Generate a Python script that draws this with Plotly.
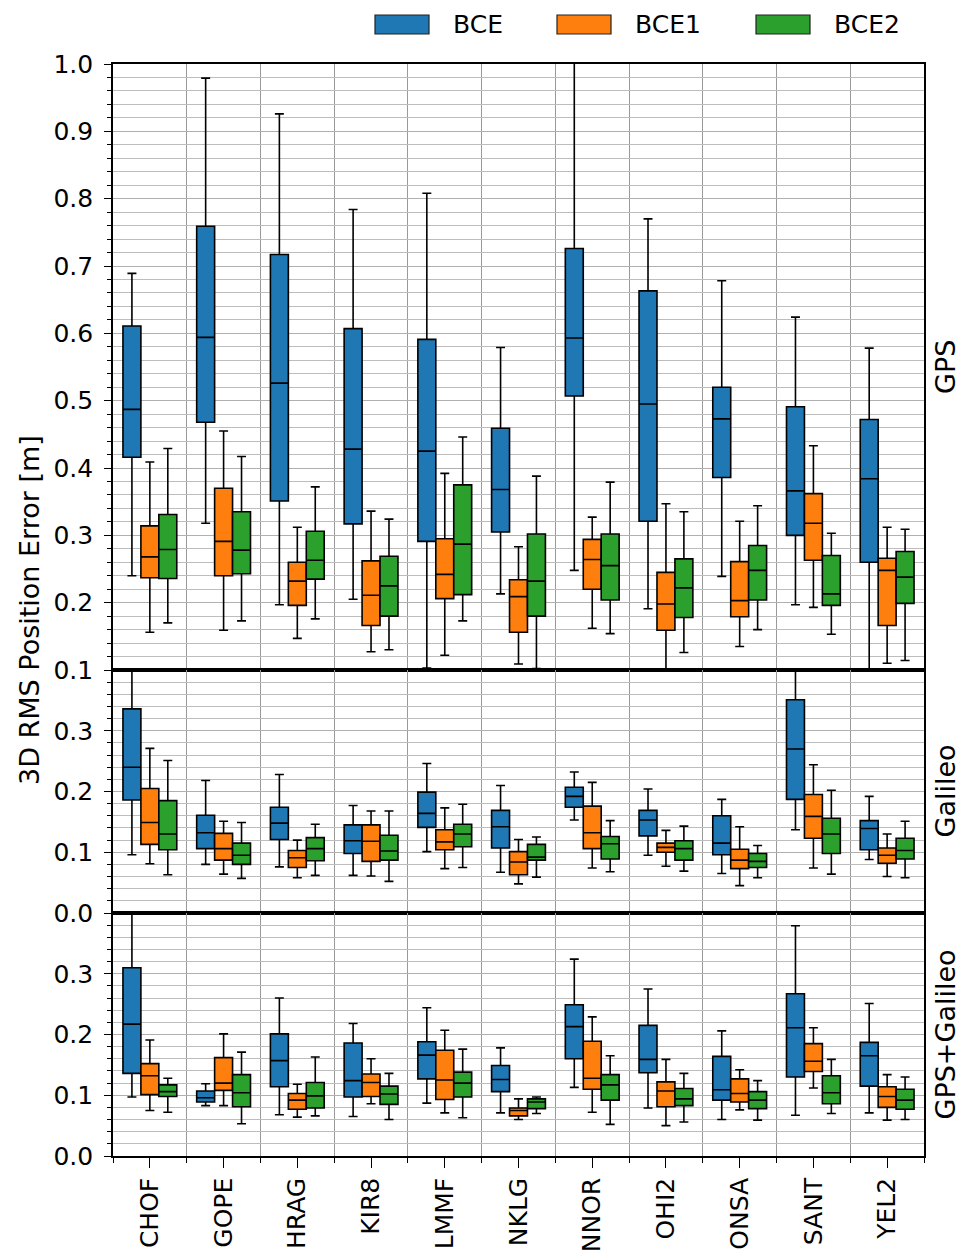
import plotly.graph_objects as go
from plotly.subplots import make_subplots

# Stations on the x axis
stations = ["CHOF", "GOPE", "HRAG", "KIR8", "LMMF", "NKLG",
            "NNOR", "OHI2", "ONSA", "SANT", "YEL2"]

series_names = ["BCE", "BCE1", "BCE2"]
series_colors = ["#1f77b4", "#ff7f0e", "#2ca02c"]
panel_names = ["GPS", "Galileo", "GPS+Galileo"]

# Box statistics per station: (lower whisker, Q1, median, Q3, upper whisker) in metres
gps_bce = [(0.240, 0.416, 0.487, 0.611, 0.689), (0.318, 0.468, 0.594, 0.759, 0.979),
           (0.197, 0.351, 0.526, 0.717, 0.926), (0.205, 0.317, 0.428, 0.607, 0.784),
           (0.103, 0.291, 0.425, 0.591, 0.808), (0.213, 0.305, 0.368, 0.459, 0.579),
           (0.248, 0.507, 0.593, 0.726, 1.050), (0.191, 0.321, 0.495, 0.663, 0.770),
           (0.239, 0.386, 0.473, 0.520, 0.678), (0.197, 0.300, 0.366, 0.491, 0.624),
           (0.090, 0.260, 0.384, 0.472, 0.578)]
gps_bce1 = [(0.156, 0.237, 0.268, 0.314, 0.409), (0.159, 0.240, 0.291, 0.370, 0.455),
            (0.147, 0.196, 0.232, 0.260, 0.312), (0.127, 0.166, 0.211, 0.262, 0.336),
            (0.122, 0.206, 0.242, 0.295, 0.392), (0.109, 0.156, 0.209, 0.234, 0.283),
            (0.162, 0.220, 0.264, 0.294, 0.327), (0.090, 0.159, 0.198, 0.245, 0.347),
            (0.135, 0.179, 0.203, 0.261, 0.321), (0.193, 0.263, 0.318, 0.362, 0.433),
            (0.110, 0.166, 0.248, 0.266, 0.312)]
gps_bce2 = [(0.170, 0.236, 0.279, 0.331, 0.429), (0.173, 0.243, 0.278, 0.335, 0.417),
            (0.176, 0.235, 0.263, 0.306, 0.372), (0.130, 0.180, 0.225, 0.269, 0.324),
            (0.173, 0.212, 0.287, 0.375, 0.446), (0.102, 0.180, 0.232, 0.302, 0.388),
            (0.154, 0.204, 0.255, 0.302, 0.379), (0.126, 0.178, 0.222, 0.265, 0.335),
            (0.160, 0.204, 0.248, 0.285, 0.344), (0.153, 0.196, 0.213, 0.270, 0.303),
            (0.114, 0.199, 0.238, 0.276, 0.309)]

gal_bce = [(0.096, 0.186, 0.240, 0.336, 0.420), (0.080, 0.106, 0.132, 0.161, 0.218),
           (0.076, 0.121, 0.148, 0.174, 0.228), (0.062, 0.098, 0.119, 0.145, 0.177),
           (0.101, 0.141, 0.164, 0.199, 0.246), (0.067, 0.107, 0.142, 0.169, 0.210),
           (0.153, 0.174, 0.192, 0.207, 0.232), (0.095, 0.127, 0.153, 0.169, 0.204),
           (0.065, 0.096, 0.115, 0.160, 0.187), (0.137, 0.187, 0.270, 0.351, 0.420),
           (0.088, 0.104, 0.139, 0.152, 0.192)]
gal_bce1 = [(0.081, 0.113, 0.149, 0.205, 0.271), (0.064, 0.087, 0.106, 0.131, 0.151),
            (0.058, 0.075, 0.091, 0.103, 0.120), (0.061, 0.085, 0.118, 0.145, 0.168),
            (0.073, 0.104, 0.117, 0.137, 0.173), (0.048, 0.063, 0.084, 0.101, 0.121),
            (0.074, 0.106, 0.132, 0.176, 0.215), (0.077, 0.100, 0.108, 0.115, 0.136),
            (0.045, 0.073, 0.087, 0.105, 0.142), (0.074, 0.123, 0.159, 0.195, 0.244),
            (0.060, 0.082, 0.095, 0.107, 0.130)]
gal_bce2 = [(0.063, 0.104, 0.130, 0.185, 0.251), (0.057, 0.080, 0.095, 0.115, 0.149),
            (0.062, 0.086, 0.106, 0.124, 0.146), (0.052, 0.087, 0.102, 0.128, 0.168),
            (0.075, 0.109, 0.130, 0.146, 0.179), (0.059, 0.087, 0.092, 0.113, 0.125),
            (0.068, 0.089, 0.114, 0.126, 0.152), (0.069, 0.087, 0.106, 0.119, 0.143),
            (0.058, 0.075, 0.085, 0.098, 0.111), (0.064, 0.098, 0.130, 0.156, 0.202),
            (0.058, 0.089, 0.103, 0.123, 0.151)]

comb_bce = [(0.097, 0.136, 0.217, 0.310, 0.420), (0.083, 0.089, 0.096, 0.107, 0.119),
            (0.068, 0.114, 0.157, 0.201, 0.260), (0.065, 0.097, 0.124, 0.186, 0.218),
            (0.087, 0.127, 0.166, 0.188, 0.244), (0.071, 0.106, 0.126, 0.149, 0.178),
            (0.113, 0.160, 0.213, 0.249, 0.324), (0.079, 0.137, 0.159, 0.215, 0.275),
            (0.060, 0.092, 0.109, 0.164, 0.206), (0.067, 0.130, 0.211, 0.267, 0.379),
            (0.071, 0.115, 0.165, 0.187, 0.251)]
comb_bce1 = [(0.075, 0.101, 0.132, 0.152, 0.191), (0.083, 0.108, 0.120, 0.162, 0.201),
             (0.064, 0.077, 0.092, 0.103, 0.118), (0.086, 0.098, 0.121, 0.135, 0.160),
             (0.071, 0.093, 0.125, 0.174, 0.207), (0.060, 0.066, 0.075, 0.079, 0.094),
             (0.072, 0.110, 0.128, 0.189, 0.229), (0.050, 0.081, 0.107, 0.122, 0.159),
             (0.076, 0.089, 0.103, 0.127, 0.142), (0.112, 0.139, 0.156, 0.185, 0.211),
             (0.059, 0.080, 0.098, 0.114, 0.134)]
comb_bce2 = [(0.072, 0.098, 0.106, 0.117, 0.128), (0.053, 0.081, 0.104, 0.134, 0.171),
             (0.066, 0.079, 0.099, 0.121, 0.163), (0.060, 0.085, 0.102, 0.115, 0.136),
             (0.063, 0.097, 0.120, 0.138, 0.176), (0.070, 0.078, 0.089, 0.094, 0.097),
             (0.052, 0.092, 0.117, 0.134, 0.165), (0.056, 0.083, 0.094, 0.111, 0.136),
             (0.059, 0.078, 0.092, 0.106, 0.124), (0.070, 0.086, 0.104, 0.132, 0.159),
             (0.060, 0.077, 0.092, 0.110, 0.130)]

panels = [
    [gps_bce, gps_bce1, gps_bce2],
    [gal_bce, gal_bce1, gal_bce2],
    [comb_bce, comb_bce1, comb_bce2],
]
y_ranges = [[0.1, 1.0], [0.0, 0.4], [0.0, 0.4]]
y_tickvals = [[0.1, 0.2, 0.3, 0.4, 0.5, 0.6, 0.7, 0.8, 0.9, 1.0],
              [0.0, 0.1, 0.2, 0.3],
              [0.0, 0.1, 0.2, 0.3]]

# Figure geometry (pixels)
W, H = 970, 1252
L, R, T, B = 113, 924, 64, 1156
panel_px = [(64, 670), (670, 913), (913, 1156)]
FONT = "DejaVu Sans"


def px_x(px):
    return (px - L) / (R - L)


def px_y(py):
    return (B - py) / (B - T)


fig = make_subplots(rows=3, cols=1, shared_xaxes=True, vertical_spacing=0)

xpos = list(range(len(stations)))
for row, panel in enumerate(panels, start=1):
    for name, color, stats in zip(series_names, series_colors, panel):
        lo, q1, med, q3, hi = (list(v) for v in zip(*stats))
        fig.add_trace(
            go.Box(
                x=xpos, lowerfence=lo, q1=q1, median=med, q3=q3, upperfence=hi,
                name=name, offsetgroup=name, legendgroup=name,
                fillcolor=color, line=dict(color="black", width=1.6),
                whiskerwidth=0.5, boxpoints=False, showlegend=False,
                hoverinfo="skip",
            ),
            row=row, col=1,
        )

# Panel layout
for i, (top, bot) in enumerate(panel_px):
    suffix = "" if i == 0 else str(i + 1)
    fig.layout["yaxis" + suffix].update(
        domain=[px_y(bot), px_y(top)],
        range=y_ranges[i],
        tickmode="array", tickvals=y_tickvals[i],
        tickformat=".1f",
        ticks="outside", ticklen=7, tickwidth=1.3, tickcolor="black",
        showgrid=True, gridcolor="#b0b0b0", gridwidth=1,
        minor=dict(dtick=0.02, tick0=0, ticks="outside", ticklen=4,
                   tickwidth=1, tickcolor="black",
                   showgrid=True, gridcolor="#bdbdbd", gridwidth=1),
        showline=True, mirror=True, linecolor="black", linewidth=1.6,
        zeroline=False, ticklabelstandoff=6, automargin=False,
        tickfont=dict(family=FONT, size=25, color="black"),
    )
    is_bottom = i == 2
    fig.layout["xaxis" + suffix].update(
        range=[-0.5, len(stations) - 0.5],
        tickmode="array", tickvals=xpos, ticktext=stations,
        showticklabels=is_bottom, tickangle=-90,
        ticks="outside" if is_bottom else "", ticklen=10, tickwidth=1.3,
        tickcolor="black",
        showgrid=False,
        minor=dict(tick0=0.5, dtick=1, showgrid=True, gridcolor="#999999",
                   gridwidth=1, ticks="outside" if is_bottom else "",
                   ticklen=5, tickwidth=1, tickcolor="black"),
        showline=True, mirror=True, linecolor="black", linewidth=1.6,
        zeroline=False, ticklabelstandoff=0, automargin=False,
        tickfont=dict(family=FONT, size=25, color="black"),
    )

annotations = []
shapes = []

# Side labels for each panel
for name, (top, bot) in zip(panel_names, panel_px):
    annotations.append(dict(
        text=name, xref="paper", yref="paper", x=px_x(945), y=px_y((top + bot) / 2),
        xanchor="center", yanchor="middle", textangle=-90, showarrow=False,
        font=dict(family=FONT, size=27, color="black"),
    ))

# Shared y-axis title
annotations.append(dict(
    text="3D RMS Position Error [m]", xref="paper", yref="paper",
    x=px_x(29), y=px_y((T + B) / 2), xanchor="center", yanchor="middle",
    textangle=-90, showarrow=False,
    font=dict(family=FONT, size=27, color="black"),
))

# Legend
legend_patch_x = [375, 557, 756]
for name, color, x0 in zip(series_names, series_colors, legend_patch_x):
    shapes.append(dict(
        type="rect", xref="paper", yref="paper",
        x0=px_x(x0), x1=px_x(x0 + 54), y0=px_y(34), y1=px_y(15),
        fillcolor=color, line=dict(color="#222222", width=1.2),
    ))
    annotations.append(dict(
        text=name, xref="paper", yref="paper", x=px_x(x0 + 76), y=px_y(24.5),
        xanchor="left", yanchor="middle", showarrow=False,
        font=dict(family=FONT, size=25, color="black"),
    ))

fig.update_layout(
    width=W, height=H,
    margin=dict(l=L, r=W - R, t=T, b=H - B, pad=0, autoexpand=False),
    paper_bgcolor="white", plot_bgcolor="white",
    boxmode="group", boxgap=0.27, boxgroupgap=0,
    showlegend=False,
    annotations=annotations, shapes=shapes,
    font=dict(family=FONT, size=25, color="black"),
)

fig.write_html("out.html")
